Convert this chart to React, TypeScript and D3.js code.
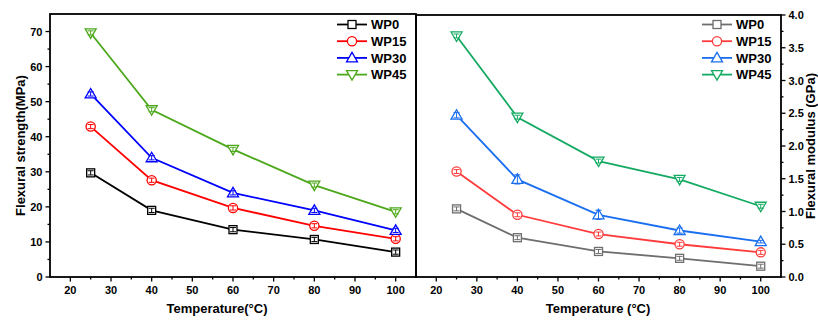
import React from "react";
import * as d3 from "d3";

const temps = [25, 40, 60, 80, 100];
const seriesNames = ["WP0", "WP15", "WP30", "WP45"];
const strengthWP0 = [29.7, 19.0, 13.5, 10.7, 7.1];
const strengthWP15 = [42.9, 27.6, 19.7, 14.6, 10.9];
const strengthWP30 = [52.2, 34.0, 24.0, 19.0, 13.3];
const strengthWP45 = [69.6, 47.7, 36.4, 26.2, 18.6];
const strengthErr = [0.6, 0.6, 0.6, 0.6, 0.6];
const modulusWP0 = [1.04, 0.6, 0.39, 0.285, 0.165];
const modulusWP15 = [1.61, 0.95, 0.656, 0.5, 0.376];
const modulusWP30 = [2.47, 1.49, 0.95, 0.71, 0.54];
const modulusWP45 = [3.68, 2.44, 1.77, 1.49, 1.08];
const modulusErr30 = [0.04, 0.07, 0.07, 0.04, 0.02];
const modulusErrOther = [0.03, 0.03, 0.03, 0.03, 0.03];
const xTicks = [20, 30, 40, 50, 60, 70, 80, 90, 100];
const xMinor = [25, 35, 45, 55, 65, 75, 85, 95];
const strengthTicks = [0, 10, 20, 30, 40, 50, 60, 70];
const strengthMinor = [5, 15, 25, 35, 45, 55, 65];
const modulusTicks = [0, 0.5, 1.0, 1.5, 2.0, 2.5, 3.0, 3.5, 4.0];
const modulusMinor = [0.25, 0.75, 1.25, 1.75, 2.25, 2.75, 3.25, 3.75];

const leftColors = ["#000000", "#ff0000", "#0000ff", "#4ca81a"];
const rightColors = ["#6e6e6e", "#ff3b3b", "#1a6ef0", "#14aa62"];
const shapes = ["square", "circle", "up", "down"];

const FONT = "'Liberation Sans', Arial, sans-serif";

function Marker({ shape, x, y, color }: any) {
  const sw = 1.3;
  if (shape === "square") return <rect x={x - 4} y={y - 4} width={8} height={8} fill="white" stroke={color} strokeWidth={sw} />;
  if (shape === "circle") return <circle cx={x} cy={y} r={4.6} fill="white" stroke={color} strokeWidth={sw} />;
  if (shape === "up") return <path d={`M${x},${y - 5.5}L${x + 5.5},${y + 4}L${x - 5.5},${y + 4}Z`} fill="white" stroke={color} strokeWidth={sw} />;
  return <path d={`M${x},${y + 5.5}L${x + 5.5},${y - 4}L${x - 5.5},${y - 4}Z`} fill="white" stroke={color} strokeWidth={sw} />;
}

function Panel({ x0, x1, y0, y1, yDomain, yTicks, yMinor, yFmt, series, errs, colors, side, yTitle, xTitle, xTitleX, legendX }: any) {
  const x = d3.scaleLinear().domain([15, 105]).range([x0, x1]);
  const y = d3.scaleLinear().domain(yDomain).range([y1, y0]);
  const line = d3.line<number>().x((_, i) => x(temps[i])).y((d) => y(d));
  const axisX = side === "left" ? x0 : x1;
  const dir = side === "left" ? -1 : 1;
  return (
    <g>
      <rect x={x0} y={y0} width={x1 - x0} height={y1 - y0} fill="none" stroke="#000" strokeWidth={1.8} />
      {xTicks.map((t) => (
        <g key={"xt" + t}>
          <line x1={x(t)} x2={x(t)} y1={y1} y2={y1 + 4.5} stroke="#000" strokeWidth={1.3} />
          <text x={x(t)} y={y1 + 17} textAnchor="middle" fontFamily={FONT} fontWeight="bold" fontSize={11}>{t}</text>
        </g>
      ))}
      {xMinor.map((t) => (
        <line key={"xm" + t} x1={x(t)} x2={x(t)} y1={y1} y2={y1 + 2.5} stroke="#000" strokeWidth={1.3} />
      ))}
      {yTicks.map((t: number) => (
        <g key={"yt" + t}>
          <line x1={axisX} x2={axisX + dir * 4.5} y1={y(t)} y2={y(t)} stroke="#000" strokeWidth={1.3} />
          <text x={axisX + dir * 7.5} y={y(t) + 4} textAnchor={side === "left" ? "end" : "start"} fontFamily={FONT} fontWeight="bold" fontSize={11}>{yFmt(t)}</text>
        </g>
      ))}
      {yMinor.map((t: number) => (
        <line key={"ym" + t} x1={axisX} x2={axisX + dir * 2.5} y1={y(t)} y2={y(t)} stroke="#000" strokeWidth={1.3} />
      ))}
      {series.map((s: number[], si: number) => (
        <path key={"l" + si} d={line(s) || ""} fill="none" stroke={colors[si]} strokeWidth={1.8} />
      ))}
      {series.map((s: number[], si: number) => (
        <g key={"m" + si}>
          {s.map((v, i) => {
            const e = errs[si][i];
            const px = x(temps[i]);
            return (
              <g key={i}>
                <Marker shape={shapes[si]} x={px} y={y(v)} color={colors[si]} />
                <line x1={px} x2={px} y1={y(v - e)} y2={y(v + e)} stroke={colors[si]} strokeWidth={1} />
                <line x1={px - 3} x2={px + 3} y1={y(v - e)} y2={y(v - e)} stroke={colors[si]} strokeWidth={1} />
                <line x1={px - 3} x2={px + 3} y1={y(v + e)} y2={y(v + e)} stroke={colors[si]} strokeWidth={1} />
              </g>
            );
          })}
        </g>
      ))}
      {seriesNames.map((n, i) => {
        const ly = 24.5 + i * 16.7;
        return (
          <g key={"lg" + n}>
            <line x1={legendX} x2={legendX + 30} y1={ly} y2={ly} stroke={colors[i]} strokeWidth={1.8} />
            <Marker shape={shapes[i]} x={legendX + 15} y={ly} color={colors[i]} />
            <text x={legendX + 34} y={ly + 4.7} fontFamily={FONT} fontWeight="bold" fontSize={13}>{n}</text>
          </g>
        );
      })}
      <text x={xTitleX} y={y1 + 36} textAnchor="middle" fontFamily={FONT} fontWeight="bold" fontSize={13}>{xTitle}</text>
      <text transform={`translate(${side === "left" ? 25 : 815},${(y0 + y1) / 2}) rotate(-90)`} textAnchor="middle" fontFamily={FONT} fontWeight="bold" fontSize={13}>{yTitle}</text>
    </g>
  );
}

export default function App() {
  return (
    <svg width={818} height={320} style={{ position: "absolute", left: 0, top: 0, background: "white" }}>
      <rect width={818} height={320} fill="white" />
      <Panel x0={50} x1={416} y0={14} y1={277} yDomain={[0, 75]} yTicks={strengthTicks} yMinor={strengthMinor} yFmt={(t: number) => String(t)}
        series={[strengthWP0, strengthWP15, strengthWP30, strengthWP45]}
        errs={[strengthErr, strengthErr, strengthErr, strengthErr]}
        colors={leftColors} side="left" yTitle="Flexural strength(MPa)" xTitle="Temperature(°C)" xTitleX={217} legendX={337} />
      <Panel x0={416} x1={781} y0={15} y1={277} yDomain={[0, 4]} yTicks={modulusTicks} yMinor={modulusMinor} yFmt={(t: number) => t.toFixed(1)}
        series={[modulusWP0, modulusWP15, modulusWP30, modulusWP45]}
        errs={[modulusErrOther, modulusErrOther, modulusErr30, modulusErrOther]}
        colors={rightColors} side="right" yTitle="Flexural modulus (GPa)" xTitle="Temperature (°C)" xTitleX={598} legendX={702} />
    </svg>
  );
}
